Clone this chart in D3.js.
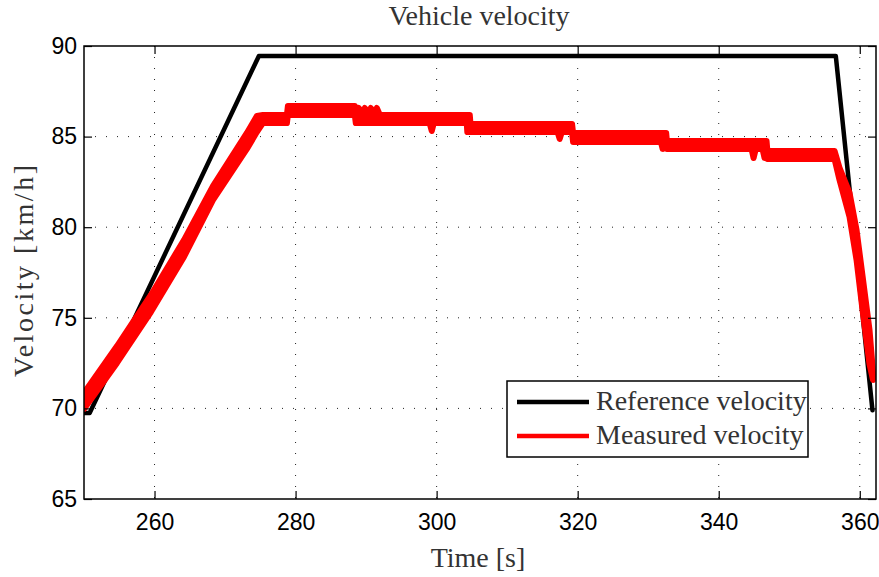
<!DOCTYPE html>
<html><head><meta charset="utf-8">
<script src="https://cdn.jsdelivr.net/npm/d3@7/dist/d3.min.js"></script>
<style>body{margin:0;background:#fff}</style>
</head><body>
<svg id="chart" width="879" height="577"></svg>
<script>
// ---- data ----
const refTime = [250, 250.8, 274.8, 356.6, 361.8];
const refVelocity = [69.75, 69.75, 89.45, 89.45, 69.9];

// measured velocity: band of the jittering signal (upper / lower envelope)
const measTime = [250.00, 254.68, 259.49, 264.17, 268.28, 273.10, 274.51, 275.36, 278.77, 278.91, 288.40, 288.54,
  288.97, 289.40, 289.82, 290.25, 290.67, 291.10, 291.52, 291.95,
  299.00, 299.31, 299.60, 304.27, 304.35, 304.70, 304.80,
  317.15, 317.45, 317.75, 319.20, 319.35,
  331.80, 332.05, 332.30, 332.55, 332.65,
  344.65, 344.94, 345.25, 346.20, 346.50, 346.78, 346.90,
  356.42, 357.13, 358.55, 359.54, 360.39, 361.38, 361.87];
const measHigh = [70.85, 73.44, 76.26, 79.29, 82.27, 85.20, 86.14, 86.19, 86.19, 86.69, 86.69, 86.19,
  86.58, 86.19, 86.58, 86.19, 86.58, 86.19, 86.58, 86.19,
  86.19, 86.19, 86.19, 86.19, 86.19, 86.19, 85.70,
  85.70, 85.70, 85.70, 85.70, 85.20,
  85.20, 85.20, 85.20, 85.20, 84.76,
  84.76, 84.76, 84.76, 84.76, 84.76, 84.76, 84.21,
  84.21, 83.27, 81.89, 79.85, 77.31, 74.33, 72.01];
const measLow = [69.97, 72.51, 75.32, 78.36, 81.50, 84.32, 85.25, 85.75, 85.75, 86.19, 86.19, 85.75,
  85.75, 85.75, 85.75, 85.75, 85.75, 85.75, 85.75, 85.75,
  85.75, 85.31, 85.75, 85.75, 85.25, 85.25, 85.25,
  85.25, 84.87, 85.25, 85.25, 84.70,
  84.70, 84.32, 84.70, 84.70, 84.32,
  84.32, 83.82, 84.32, 84.32, 83.82, 83.82, 83.76,
  83.76, 82.60, 80.56, 78.19, 75.43, 72.45, 71.57];

const xTicks = [260, 280, 300, 320, 340, 360];
const yTicks = [65, 70, 75, 80, 85, 90];
const xGrid = [260, 280, 300, 320, 340, 360];
const yGrid = [70, 75, 80, 85];
const seriesNames = ["Reference velocity", "Measured velocity"];
const seriesColors = ["#000000", "#ff0000"];
const titleText = "Vehicle velocity";
const xLabel = "Time [s]";
const yLabel = "Velocity [km/h]";

// ---- layout ----
const svg = d3.select("#chart");
const W = 879, H = 577;
const m = {left: 84, top: 46, right: 3, bottom: 78};
const iw = W - m.left - m.right, ih = H - m.top - m.bottom;
svg.append("rect").attr("width", W).attr("height", H).attr("fill", "#fff");
const g = svg.append("g").attr("transform", `translate(${m.left},${m.top})`);

const x = d3.scaleLinear().domain([250, 362.3]).range([0, iw]);
const y = d3.scaleLinear().domain([65, 90]).range([ih, 0]);

const clip = svg.append("defs").append("clipPath").attr("id", "clip");
clip.append("rect").attr("x", 0).attr("y", 0).attr("width", iw).attr("height", ih);

// grid
const grid = g.append("g");
grid.selectAll("line.vx").data(xGrid).join("line")
  .attr("x1", d => x(d)).attr("x2", d => x(d)).attr("y1", 0).attr("y2", ih)
  .attr("stroke", "#222").attr("stroke-width", 1).attr("stroke-dasharray", "1,10");
grid.selectAll("line.hy").data(yGrid).join("line")
  .attr("y1", d => y(d)).attr("y2", d => y(d)).attr("x1", 0).attr("x2", iw)
  .attr("stroke", "#222").attr("stroke-width", 1).attr("stroke-dasharray", "1,10");

// data
const plot = g.append("g").attr("clip-path", "url(#clip)");
const refData = refTime.map((t, i) => ({t, v: refVelocity[i]}));
const measData = measTime.map((t, i) => ({t, hi: measHigh[i], lo: measLow[i]}));

plot.append("path").datum(refData)
  .attr("d", d3.line().x(d => x(d.t)).y(d => y(d.v)))
  .attr("fill", "none").attr("stroke", seriesColors[0]).attr("stroke-width", 4.5)
  .attr("stroke-linejoin", "round").attr("stroke-linecap", "round");

plot.append("path").datum(measData)
  .attr("d", d3.area().x(d => x(d.t)).y0(d => y(d.lo)).y1(d => y(d.hi)))
  .attr("fill", seriesColors[1]).attr("stroke", seriesColors[1]).attr("stroke-width", 6)
  .attr("stroke-linejoin", "round").attr("stroke-linecap", "round");

// axes
const tickFont = "'Liberation Sans', Arial, sans-serif";
const xAxis = g.append("g").attr("transform", `translate(0,${ih})`)
  .call(d3.axisBottom(x).tickValues(xTicks).tickSizeInner(-8).tickSizeOuter(0).tickPadding(15));
const yAxis = g.append("g")
  .call(d3.axisLeft(y).tickValues(yTicks).tickSizeInner(-8).tickSizeOuter(0).tickPadding(7));
const xTop = g.append("g")
  .call(d3.axisTop(x).tickValues(xTicks).tickSizeInner(-8).tickSizeOuter(0).tickFormat(""));
const yRight = g.append("g").attr("transform", `translate(${iw},0)`)
  .call(d3.axisRight(y).tickValues(yTicks).tickSizeInner(-8).tickSizeOuter(0).tickFormat(""));
[xAxis, yAxis, xTop, yRight].forEach(a => {
  a.select(".domain").remove();
  a.selectAll(".tick line").attr("stroke", "#000").attr("stroke-width", 1.2);
  a.selectAll("text").attr("font-family", tickFont).attr("font-size", 23).attr("fill", "#000");
});

// frame
g.append("rect").attr("x", 0).attr("y", 0).attr("width", iw).attr("height", ih)
  .attr("fill", "none").attr("stroke", "#000").attr("stroke-width", 1.5);

// texts
const serif = "'Liberation Serif', 'Times New Roman', serif";
svg.append("text").attr("x", 479).attr("y", 25).attr("text-anchor", "middle")
  .attr("font-family", serif).attr("font-size", 28).attr("fill", "#333").text(titleText);
svg.append("text").attr("x", 478).attr("y", 567).attr("text-anchor", "middle")
  .attr("font-family", serif).attr("font-size", 28).attr("fill", "#333").text(xLabel);
svg.append("text").attr("transform", "translate(33,271) rotate(-90)").attr("text-anchor", "middle")
  .attr("font-family", serif).attr("font-size", 28).attr("fill", "#333")
  .attr("textLength", 212).attr("lengthAdjust", "spacing").text(yLabel);

// legend
const lg = svg.append("g");
lg.append("rect").attr("x", 507).attr("y", 381).attr("width", 301).attr("height", 76)
  .attr("fill", "#fff").attr("stroke", "#000").attr("stroke-width", 1.5);
seriesNames.forEach((name, i) => {
  const yy = 402 + i * 34;
  lg.append("line").attr("x1", 517).attr("x2", 589).attr("y1", yy).attr("y2", yy)
    .attr("stroke", seriesColors[i]).attr("stroke-width", 4.5);
  lg.append("text").attr("x", 596).attr("y", yy + 8).attr("font-family", serif)
    .attr("font-size", 28).attr("fill", "#333").text(name);
});
</script>
</body></html>
